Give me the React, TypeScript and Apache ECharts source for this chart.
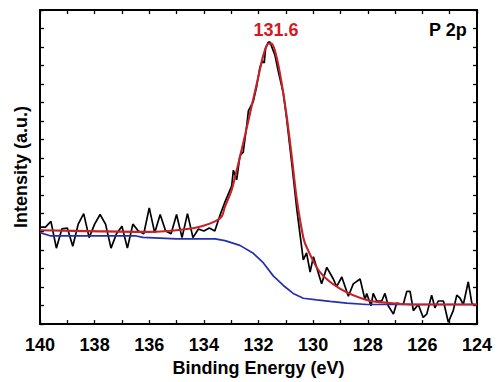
import React, { useEffect, useRef } from "react";
import * as echarts from "echarts";

// Binding energy (eV) and measured intensity (a.u.) of the raw spectrum
const rawX = [
  140.0, 139.8, 139.6, 139.4, 139.2, 139.0, 138.8, 138.6, 138.4, 138.2, 138.0, 137.8,
  137.6, 137.4, 137.2, 137.0, 136.8, 136.6, 136.4, 136.2, 136.0, 135.8, 135.6, 135.4,
  135.2, 135.0, 134.8, 134.6, 134.4, 134.2, 134.0, 133.8, 133.6, 133.4,
  133.23, 132.98, 132.92, 132.8, 132.68, 132.56, 132.43, 132.37, 132.19, 132.07, 131.95,
  131.86, 131.79, 131.74, 131.64, 131.58, 131.4, 131.28, 131.09, 130.97, 130.78, 130.6,
  130.36, 130.24, 130.11, 129.99, 129.69, 129.5, 129.26, 129.14, 128.95, 128.71, 128.53,
  128.28, 128.1, 128.04, 127.88, 127.8, 127.67, 127.49, 127.37, 127.25, 127.06, 126.94,
  126.7, 126.57, 126.45, 126.33, 126.15, 125.97, 125.84, 125.66, 125.54, 125.42, 125.23,
  125.05, 124.87, 124.74, 124.62, 124.5, 124.32, 124.19, 124.14,
];
const rawY = [
  5.25, 5.25, 5.56, 4.11, 5.15, 5.2, 4.21, 5.41, 5.98, 4.68, 5.41, 5.93,
  5.41, 4.11, 4.89, 5.3, 4.11, 5.41, 5.04, 4.89, 6.29, 4.94, 5.93, 5.04,
  4.89, 5.93, 4.68, 5.98, 4.68, 5.15, 5.04, 5.2, 5.04, 5.93,
  6.6, 7.48, 8.33, 7.81, 9.11, 9.3, 10.76, 11.54, 12.06, 12.84, 13.88,
  14.23, 14.14, 14.92, 15.26, 15.26, 14.57, 13.71, 12.49, 11.12, 8.68, 6.25,
  3.48, 3.85, 2.81, 3.65, 2.18, 3.07, 2.44, 2.03, 2.55, 1.51, 2.18,
  2.44, 1.31, 1.66, 0.99, 1.66, 1.25, 1.25, 1.66, 0.99, 0.54, 1.14,
  1.06, 1.77, 1.77, 0.73, 1.06, 0.36, 0.54, 1.57, 0.88, 1.25, 1.25,
  0.1, 0.73, 1.57, 1.4, 1.06, 2.29, 1.14, 1.06,
];

// Fitted envelope
const fitX = [
  140.0, 137.8, 135.97, 134.69, 134.08, 133.59, 133.35, 133.23, 132.98, 132.74, 132.49,
  132.25, 132.01, 131.82, 131.64, 131.52, 131.33, 131.15, 130.97, 130.78, 130.6, 130.36,
  130.24, 129.75, 129.02, 128.04, 127.19, 126.45, 124.0,
];
const fitY = [
  5.08, 5.02, 4.99, 5.13, 5.3, 5.56, 5.82, 6.34, 7.28, 8.68, 10.24,
  11.8, 13.36, 14.57, 15.18, 15.18, 14.4, 13.01, 11.28, 9.04, 6.77, 4.69,
  4.17, 2.81, 1.92, 1.31, 1.14, 1.07, 1.06,
];

// Background (Shirley)
const bgX = [
  140.0, 139.63, 136.52, 136.23, 135.0, 133.59, 133.23, 132.68, 132.19, 131.82, 131.46,
  131.09, 130.73, 130.36, 129.87, 129.38, 128.77, 128.04, 124.0,
];
const bgY = [
  4.95, 4.78, 4.78, 4.69, 4.61, 4.61, 4.52, 4.26, 3.83, 3.31, 2.61,
  2.09, 1.66, 1.4, 1.31, 1.23, 1.14, 1.06, 1.06,
];

const peakLabel = "131.6";
const peakLabelX = 131.36;
const peakLabelY = 15.92;
const regionLabel = "P 2p";

const zip = (xs: number[], ys: number[]) => xs.map((x, i) => [x, ys[i]]);

export default function App() {
  const ref = useRef<HTMLDivElement>(null);
  useEffect(() => {
    document.body.style.margin = "0";
    const chart = echarts.init(ref.current!, null, { renderer: "svg" });
    const font = "Liberation Sans, Arial, sans-serif";
    chart.setOption({
      animation: false,
      backgroundColor: "#ffffff",
      grid: { left: 40, right: 20, top: 10, bottom: 45, containLabel: false },
      xAxis: [
        {
          type: "value",
          min: 124,
          max: 140,
          interval: 2,
          inverse: true,
          position: "bottom",
          name: "Binding Energy (eV)",
          nameLocation: "middle",
          nameGap: 24,
          nameTextStyle: { fontFamily: font, fontWeight: "bold", fontSize: 18, color: "#000" },
          axisLine: { show: true, onZero: false, lineStyle: { color: "#000", width: 2 } },
          axisTick: { show: true, inside: true, length: 4, lineStyle: { color: "#000", width: 1.3 } },
          minorTick: { show: true, splitNumber: 2, length: 4, lineStyle: { color: "#000", width: 1.3 } },
          axisLabel: { fontFamily: font, fontWeight: "bold", fontSize: 18, color: "#000", margin: 12 },
          splitLine: { show: false },
        },
        {
          type: "value",
          min: 124,
          max: 140,
          interval: 1,
          inverse: true,
          position: "top",
          axisLine: { show: true, onZero: false, lineStyle: { color: "#000", width: 2 } },
          axisTick: { show: true, inside: true, length: 4, lineStyle: { color: "#000", width: 1.3 } },
          axisLabel: { show: false },
          splitLine: { show: false },
        },
      ],
      yAxis: [
        {
          type: "value",
          min: 0,
          max: 17,
          interval: 1,
          position: "left",
          name: "Intensity (a.u.)",
          nameLocation: "middle",
          nameGap: 10,
          nameTextStyle: { fontFamily: font, fontWeight: "bold", fontSize: 18, color: "#000" },
          axisLine: { show: true, onZero: false, lineStyle: { color: "#000", width: 2 } },
          axisTick: { show: true, inside: true, length: 4, lineStyle: { color: "#000", width: 1.3 } },
          axisLabel: { show: false },
          splitLine: { show: false },
        },
        {
          type: "value",
          min: 0,
          max: 17,
          interval: 1,
          position: "right",
          axisLine: { show: true, onZero: false, lineStyle: { color: "#000", width: 2 } },
          axisTick: { show: true, inside: true, length: 4, lineStyle: { color: "#000", width: 1.3 } },
          axisLabel: { show: false },
          splitLine: { show: false },
        },
      ],
      series: [
        {
          type: "line",
          data: zip(rawX, rawY),
          showSymbol: false,
          lineStyle: { color: "#000", width: 1.7 },
          z: 2,
        },
        {
          type: "line",
          data: zip(bgX, bgY),
          showSymbol: false,
          lineStyle: { color: "#2230b0", width: 1.7 },
          z: 3,
        },
        {
          type: "line",
          data: zip(fitX, fitY),
          showSymbol: false,
          smooth: 0.3,
          lineStyle: { color: "#c4222a", width: 2.1 },
          z: 4,
          markPoint: {
            symbol: "circle",
            symbolSize: 0,
            data: [
              {
                coord: [peakLabelX, peakLabelY],
                label: {
                  show: true,
                  formatter: peakLabel,
                  position: "inside",
                  fontFamily: font,
                  fontWeight: "bold",
                  fontSize: 18,
                  color: "#d41b22",
                },
              },
            ],
          },
        },
      ],
      graphic: [
        {
          type: "text",
          right: 30,
          top: 21,
          style: {
            text: regionLabel,
            fontFamily: font,
            fontWeight: "bold",
            fontSize: 18,
            fill: "#000",
          },
        },
      ],
    });
    return () => chart.dispose();
  }, []);
  return (
    <div
      ref={ref}
      style={{ position: "fixed", left: 0, top: 0, width: 497, height: 382 }}
    />
  );
}
